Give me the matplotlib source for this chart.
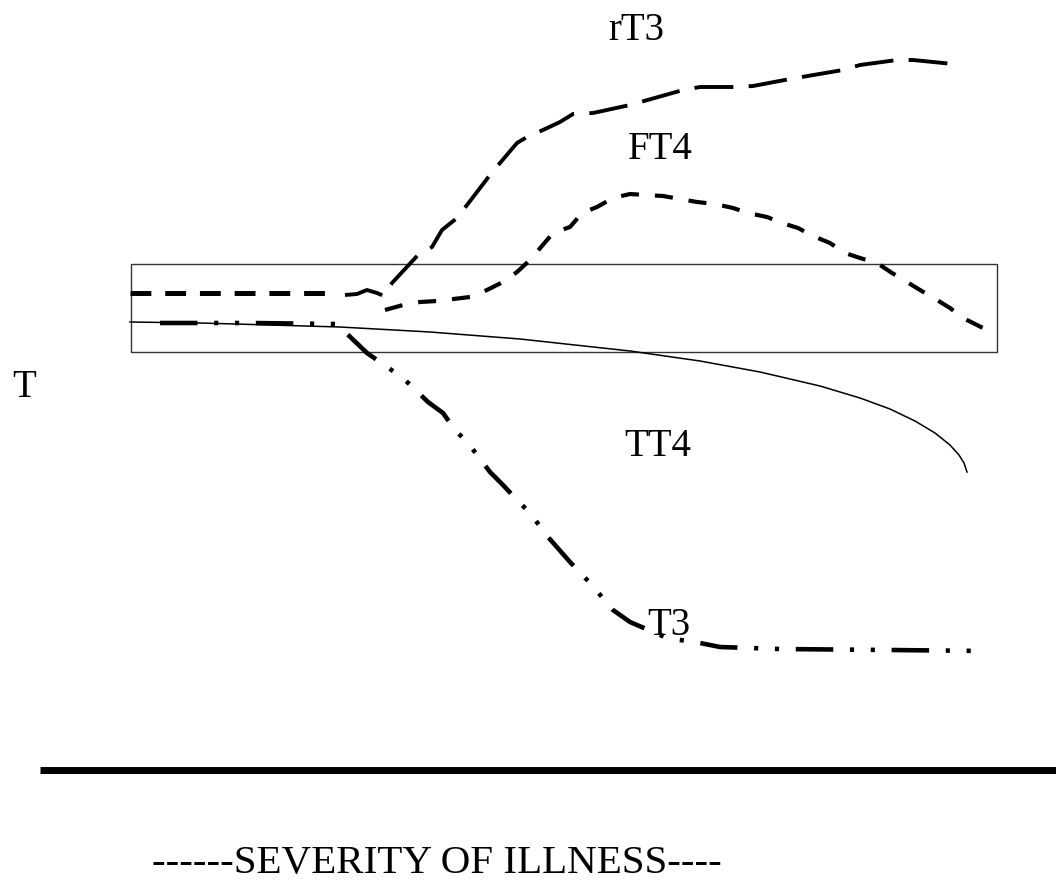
import matplotlib.pyplot as plt
from matplotlib.patches import Rectangle

plt.rcParams['font.family'] = ['Liberation Serif', 'DejaVu Serif']
plt.rcParams['lines.scale_dashes'] = False

# schematic curves (x = severity, y = level, y grows down)
base_x = [130, 325]
base_y = [293, 293]

rt3_x = [345, 357, 367, 377, 384, 392, 418, 432, 442, 457, 467, 490, 500, 517, 527, 543, 560,
         573, 593, 630, 683, 700, 737, 753, 790, 843, 860, 897, 913, 953]
rt3_y = [295, 294, 290, 293, 296, 283, 255, 247, 230, 218, 205, 175, 163, 143, 137, 130, 122,
         114, 113, 105, 90, 87, 87, 86, 79, 70, 65, 60, 60, 64]

ft4_x = [385, 403, 420, 437, 470, 487, 503, 517, 530, 553, 570, 582, 597, 613, 630, 645, 663,
         680, 697, 715, 733, 748, 767, 782, 798, 813, 830, 845, 860, 877, 892, 907, 920, 937,
         950, 963, 975, 983, 985]
ft4_y = [310, 305, 302, 301, 297, 290, 282, 272, 260, 233, 227, 213, 207, 198, 194, 195, 196,
         199, 202, 204, 208, 213, 217, 223, 228, 236, 243, 253, 258, 263, 273, 282, 290, 300,
         308, 318, 324, 328, 335]

tt4_x = [130, 200, 270, 340, 430, 520, 630, 700, 760, 820, 860, 890, 915, 935, 950, 959, 964, 967]
tt4_y = [322, 323, 325, 327, 332, 339, 351, 361, 372, 386, 398, 409, 421, 433, 445, 455, 463, 472]

t3_x = [160, 250, 335, 343, 367, 403, 428, 443, 455, 468, 490, 503, 517, 530, 548, 570, 590,
        613, 630, 667, 700, 720, 780, 890, 987]
t3_y = [323, 323, 324, 330, 353, 378, 402, 413, 430, 443, 472, 485, 500, 513, 537, 562, 583,
        610, 622, 638, 643, 647, 649, 650, 651]

labels = ['rT3', 'FT4', 'TT4', 'T3', 'T']
label_x = [636, 660, 658, 669, 24]
label_y = [40, 159, 456, 635, 397]

fig = plt.figure(figsize=(10.56, 8.89), dpi=100)
ax = fig.add_axes([0, 0, 1, 1])
ax.set_xlim(0, 1056)
ax.set_ylim(889, 0)
ax.axis('off')

# normal range box
ax.add_patch(Rectangle((131, 264), 866, 88, fill=False, edgecolor='#333333', linewidth=1.0))

ax.plot(base_x, base_y, color='black', linewidth=3.6, dashes=(15, 10))
ax.plot(rt3_x, rt3_y, color='black', linewidth=2.8, dashes=(28, 11))
ax.plot(ft4_x, ft4_y, color='black', linewidth=3.0, dashes=(13, 11.5))
ax.plot(tt4_x, tt4_y, color='black', linewidth=1.1)
ax.plot(t3_x, t3_y, color='black', linewidth=3.3, dashes=(27, 12, 3, 12, 3, 12))

# axis line
ax.plot([40, 1056], [769.5, 769.5], color='black', linewidth=5.0, solid_capstyle='butt')

for lab, lx, ly in zip(labels, label_x, label_y):
    ax.text(lx, ly, lab, fontsize=28, ha='center', va='baseline', color='black')

ax.text(152, 873, '------SEVERITY OF ILLNESS----', fontsize=29.5, ha='left', va='baseline',
        color='black')

fig.savefig('out.png', dpi=100)
plt.close(fig)
